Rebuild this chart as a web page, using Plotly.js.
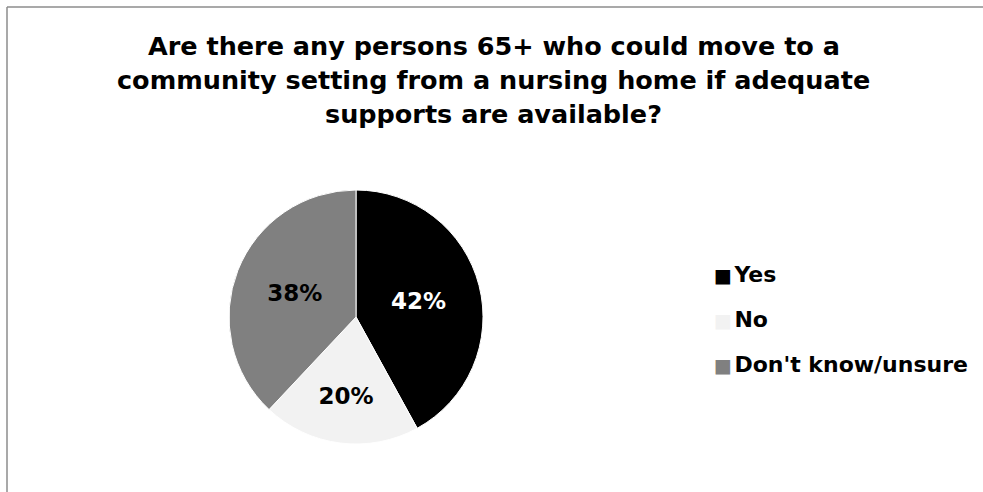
<!DOCTYPE html>
<html>
<head>
<meta charset="utf-8">
<script src="https://cdn.plot.ly/plotly-3.0.1.min.js"></script>
<style>html,body{margin:0;padding:0;background:#fff;}#chart{width:983px;height:492px;}</style>
</head>
<body>
<div id="chart"></div>
<script>
const categories = ["Yes", "No", "Don't know/unsure"];
const values = [42, 20, 38];
const sliceColors = ["#000000", "#f2f2f2", "#808080"];
const labelColors = ["#ffffff", "#000000", "#000000"];
const titleLines = [
  "Are there any persons 65+ who could move to a",
  "community setting from a nursing home if adequate",
  "supports are available?"
];

const W = 983, H = 492;
const FONT = "DejaVu Sans, Verdana, sans-serif";

const trace = {
  type: "pie",
  labels: categories,
  values: values,
  sort: false,
  direction: "clockwise",
  rotation: 0,
  marker: {colors: sliceColors, line: {color: "#ffffff", width: 1}},
  textinfo: "percent",
  texttemplate: "%{percent:.0%}",
  textposition: "inside",
  insidetextorientation: "horizontal",
  insidetextfont: {family: FONT, size: 23, color: labelColors, weight: "bold"},
  hoverinfo: "none",
  showlegend: false,
  domain: {x: [229 / W, 483 / W], y: [(H - 444) / H, (H - 190) / H]}
};

const annotations = [];
const titleTops = [29, 63, 97];
titleLines.forEach((t, i) => {
  annotations.push({
    text: t, xref: "paper", yref: "paper", x: 494 / W, y: 1 - titleTops[i] / H,
    xanchor: "center", yanchor: "top", showarrow: false,
    font: {family: FONT, size: 25.5, color: "#000", weight: "bold"}
  });
});
const legendY = [274, 319, 364];
categories.forEach((c, i) => {
  annotations.push({
    text: '<span style="color:' + sliceColors[i] + ';font-size:19px">■</span><span style="font-size:7px"> </span>' + c,
    xref: "paper", yref: "paper", x: 712 / W, y: 1 - legendY[i] / H,
    xanchor: "left", yanchor: "middle", showarrow: false,
    font: {family: FONT, size: 22, color: "#000", weight: "bold"}
  });
});

const layout = {
  width: W, height: H,
  margin: {l: 0, r: 0, t: 0, b: 0},
  paper_bgcolor: "#ffffff",
  annotations: annotations,
  shapes: [
    {type: "line", xref: "paper", yref: "paper", x0: 7 / W, x1: 1, y0: 1 - 7 / H, y1: 1 - 7 / H, line: {color: "#8c8c8c", width: 1.5}},
    {type: "line", xref: "paper", yref: "paper", x0: 7 / W, x1: 7 / W, y0: 0, y1: 1 - 7 / H, line: {color: "#8c8c8c", width: 1.5}}
  ]
};

Plotly.newPlot("chart", [trace], layout, {displayModeBar: false, staticPlot: true});
</script>
</body>
</html>
